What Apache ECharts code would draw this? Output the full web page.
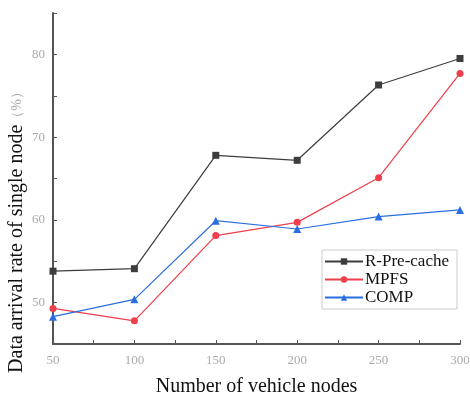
<!DOCTYPE html>
<html><head><meta charset="utf-8">
<script src="https://cdn.jsdelivr.net/npm/echarts@6/dist/echarts.min.js"></script>
<style>html,body{margin:0;padding:0;background:#fff}#c{width:470px;height:397px}</style>
</head><body><div id="c"></div>
<script>
const xValues = [50, 100, 150, 200, 250, 300];
const rPreCache = [53.8, 54.1, 67.8, 67.2, 76.3, 79.5];
const mpfs = [49.3, 47.8, 58.1, 59.7, 65.1, 77.7];
const comp = [48.3, 50.4, 59.9, 58.9, 60.4, 61.2];
const seriesNames = ['R-Pre-cache', 'MPFS', 'COMP'];
const xTitle = 'Number of vehicle nodes';
const yTitleMain = 'Data arrival rate of single node';
const yTitleUnit = '（%）';

const pair = arr => xValues.map((x, i) => [x, arr[i]]);
const chart = echarts.init(document.getElementById('c'));
const serif = '"Liberation Serif", "DejaVu Serif", serif';
chart.setOption({
  animation: false,
  grid: {left: 53, right: 10, top: 13, bottom: 53, containLabel: false, outerBoundsMode: 'none'},
  graphic: [{
    type: 'text', x: 17, y: 229, rotation: Math.PI / 2,
    style: {
      text: '{m|' + yTitleMain + '}{u|' + yTitleUnit + '}',
      align: 'center', verticalAlign: 'middle',
      rich: {
        m: {fontFamily: serif, fontSize: 20, fill: '#111'},
        u: {fontFamily: serif, fontSize: 14, fill: '#aaa'}
      }
    }
  }],
  legend: {
    left: 322, top: 250, orient: 'vertical', itemGap: 1,
    itemWidth: 38, itemHeight: 8,
    borderColor: '#ccc', borderWidth: 1, padding: [3, 8, 3, 2],
    backgroundColor: '#fff',
    textStyle: {fontFamily: serif, fontSize: 17, color: '#111', padding: [0, 0, 0, -3]},
    data: seriesNames
  },
  xAxis: {
    type: 'value', min: 50, max: 300, interval: 25,
    name: xTitle, nameLocation: 'middle', nameGap: 33,
    nameTextStyle: {fontFamily: serif, fontSize: 20, color: '#111'},
    axisLine: {lineStyle: {color: '#555', width: 2}},
    axisTick: {inside: true, length: 4, lineStyle: {color: '#555'}},
    splitLine: {show: false},
    axisLabel: {fontFamily: serif, fontSize: 13, color: '#aaa', margin: 10,
      formatter: v => (v % 50 === 0 ? String(v) : '')}
  },
  yAxis: {
    type: 'value', min: 45, max: 85, interval: 5,
    axisLine: {show: true, lineStyle: {color: '#555', width: 2}},
    axisTick: {show: true, inside: true, length: 4, lineStyle: {color: '#555'}},
    splitLine: {show: false},
    axisLabel: {fontFamily: serif, fontSize: 13, color: '#aaa', margin: 8,
      formatter: v => (v % 10 === 0 && v >= 50 && v <= 80 ? String(v) : '')}
  },
  series: [
    {name: seriesNames[0], type: 'line', data: pair(rPreCache), symbol: 'rect', symbolSize: 7,
     itemStyle: {color: '#3d3d3d'}, lineStyle: {width: 1.2, color: '#3d3d3d'}},
    {name: seriesNames[1], type: 'line', data: pair(mpfs), symbol: 'circle', symbolSize: 7,
     itemStyle: {color: '#ef3f4b'}, lineStyle: {width: 1.2, color: '#ef3f4b'}},
    {name: seriesNames[2], type: 'line', data: pair(comp), symbol: 'triangle', symbolSize: 8,
     itemStyle: {color: '#2a6fe0'}, lineStyle: {width: 1.2, color: '#2a6fe0'}}
  ]
});
</script></body></html>
